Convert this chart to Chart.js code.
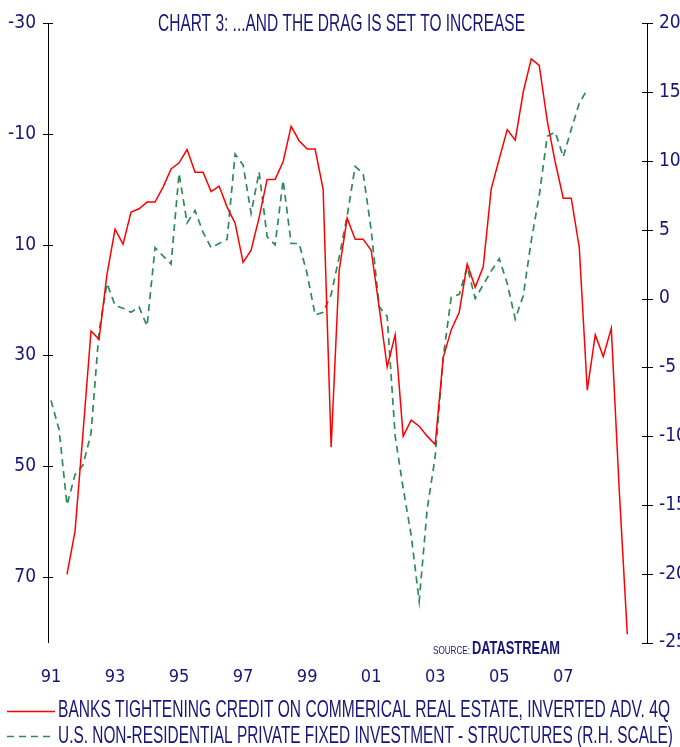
<!DOCTYPE html>
<html>
<head>
<meta charset="utf-8">
<script src="https://cdn.jsdelivr.net/npm/chart.js@4.4.1/dist/chart.umd.min.js"></script>
<style>
    html, body { margin: 0; padding: 0; background: #fff; }
    #wrap { width: 680px; height: 747px; }
</style>
</head>
<body>
<div id="wrap"><canvas id="chart" width="680" height="747"></canvas></div>
<script>
const TITLE = 'CHART 3: ...AND THE DRAG IS SET TO INCREASE';
const CREDIT_LABEL = 'BANKS TIGHTENING CREDIT ON COMMERICAL REAL ESTATE, INVERTED ADV. 4Q';
const STRUCTURES_LABEL = 'U.S. NON-RESIDENTIAL PRIVATE FIXED INVESTMENT - STRUCTURES (R.H. SCALE)';

// first quarter of each series: [year, quarter]
const creditStart = [1991, 3];
const structuresStart = [1991, 1];

// % of banks tightening, inverted, advanced 4 quarters (left scale)
const creditTightening = [
    69.6, 61.8, 44.0, 25.6, 27.1, 15.3, 7.2, 9.9, 4.1, 3.5,
    2.3, 2.3, -0.4, -3.7, -4.8, -7.2, -3.1, -3.1, 0.4, -0.6,
    3.2, 6.1, 13.2, 11.0, 5.1, -1.8, -1.8, -5.0, -11.4, -8.8,
    -7.3, -7.3, 0.0, 46.6, 14.7, 5.2, 9.0, 9.0, 11.0, 21.3,
    32.1, 26.3, 44.6, 41.7, 42.8, 44.6, 46.1, 30.4, 25.4, 22.2,
    13.5, 17.7, 14.0, -0.1, -5.5, -10.8, -8.9, -17.6, -23.6, -22.4,
    -12.4, -4.9, 1.6, 1.6, 10.5, 36.3, 26.3, 30.2, 25.1, 54.5,
    80.4
];

// structures investment, % y/y (right scale)
const structures = [
    -7.4, -9.5, -15.0, -12.8, -12.1, -9.8, -2.4, 1.1, -0.5, -0.7,
    -1.0, -0.6, -2.0, 3.7, 3.1, 2.5, 9.1, 5.5, 6.4, 4.8,
    3.7, 4.0, 4.3, 10.5, 9.7, 6.2, 9.2, 4.5, 3.9, 8.6,
    4.0, 4.0, 1.8, -1.2, -1.0, 0.3, 3.0, 6.0, 9.6, 9.1,
    5.0, -0.6, -1.3, -10.0, -13.8, -17.2, -22.0, -15.3, -11.5, -4.3,
    0.1, 0.3, 2.3, 0.0, 1.0, 2.0, 2.9, 1.1, -1.5, 0.2,
    4.2, 7.5, 11.8, 12.1, 10.3, 12.3, 14.2, 15.2
];

const yearTicks = [1991, 1993, 1995, 1997, 1999, 2001, 2003, 2005, 2007];
const leftTicks = [-30, -10, 10, 30, 50, 70];
const rightTicks = [20, 15, 10, 5, 0, -5, -10, -15, -20, -25];

const NAVY = '#16167a';
const RED = '#ff0000';
const GREEN = '#2e8b57';
const TICK_FONT = "'Liberation Sans Narrow', 'Arial Narrow', 'DejaVu Sans Condensed', 'Liberation Sans', sans-serif";

function toPoints(start, values) {
    return values.map((v, i) => ({
        x: start[0] + (start[1] - 1 + i) / 4,
        y: v
    }));
}

// text in the original is squeezed, so stretch it to the width it has there
function squeezedText(ctx, text, x, y, width, font, color) {
    ctx.save();
    ctx.font = font;
    ctx.fillStyle = color;
    ctx.textBaseline = 'alphabetic';
    ctx.textAlign = 'left';
    const w = ctx.measureText(text).width;
    ctx.translate(x, y);
    ctx.scale(width / w, 1);
    ctx.fillText(text, 0, 0);
    ctx.restore();
}

const decorations = {
    id: 'decorations',
    afterDraw(chart) {
        const ctx = chart.ctx;
        const ds = chart.data.datasets;

        // tick marks crossing both axes
        ctx.save();
        ctx.strokeStyle = '#000';
        ctx.lineWidth = 1;
        const yl = chart.scales.yL;
        yl.ticks.forEach(t => {
            const y = Math.round(yl.getPixelForValue(t.value)) + 0.5;
            ctx.beginPath();
            ctx.moveTo(yl.right - 5, y);
            ctx.lineTo(yl.right + 5, y);
            ctx.stroke();
        });
        const yr = chart.scales.yR;
        yr.ticks.forEach(t => {
            const y = Math.round(yr.getPixelForValue(t.value)) + 0.5;
            ctx.beginPath();
            ctx.moveTo(yr.left - 5, y);
            ctx.lineTo(yr.left + 6, y);
            ctx.stroke();
        });
        ctx.restore();

        squeezedText(ctx, TITLE, 158, 30.5, 367, "24px 'Liberation Sans', sans-serif", NAVY);

        squeezedText(ctx, 'SOURCE:', 433, 653.5, 37, "11px 'Liberation Sans', sans-serif", NAVY);
        squeezedText(ctx, 'DATASTREAM', 472, 653.5, 88, "bold 18px 'Liberation Sans', sans-serif", NAVY);

        // legend
        const rows = [
            { label: ds[0].label, y: 711.5, text: 716.5, width: 612, d: ds[0] },
            { label: ds[1].label, y: 736.5, text: 743, width: 615, d: ds[1] }
        ];
        rows.forEach(r => {
            ctx.save();
            ctx.strokeStyle = r.d.borderColor;
            ctx.lineWidth = r.d.borderWidth;
            ctx.setLineDash(r.d.borderDash || []);
            ctx.beginPath();
            ctx.moveTo(7, r.y);
            ctx.lineTo(55, r.y);
            ctx.stroke();
            ctx.restore();
            squeezedText(ctx, r.label, 58, r.text, r.width, "24px 'Liberation Sans', sans-serif", NAVY);
        });
    }
};

const ctx = document.querySelector('#chart');

new Chart(ctx, {
    type: 'line',
    data: {
        datasets: [
            {
                label: CREDIT_LABEL,
                data: toPoints(creditStart, creditTightening),
                yAxisID: 'yL',
                borderColor: RED,
                borderWidth: 1.5,
                pointRadius: 0,
                tension: 0,
                fill: false
            },
            {
                label: STRUCTURES_LABEL,
                data: toPoints(structuresStart, structures),
                yAxisID: 'yR',
                borderColor: GREEN,
                borderWidth: 1.7,
                borderDash: [7, 5],
                pointRadius: 0,
                tension: 0,
                fill: false
            }
        ]
    },
    options: {
        responsive: false,
        animation: false,
        devicePixelRatio: 1,
        layout: {
            padding: { top: 23, left: 0, right: 0, bottom: 0 }
        },
        plugins: {
            legend: { display: false },
            title: { display: false },
            tooltip: { enabled: false }
        },
        scales: {
            x: {
                type: 'linear',
                min: 1991 - 3 / 32,
                max: 1991 + 595.7 / 32,
                grid: { display: false, drawTicks: false },
                border: { display: false },
                afterBuildTicks: axis => {
                    axis.ticks = yearTicks.map(v => ({ value: v }));
                },
                afterFit: axis => {
                    axis.height = 104.5;
                },
                ticks: {
                    color: NAVY,
                    font: { family: TICK_FONT, size: 18 },
                    padding: 24,
                    maxRotation: 0,
                    autoSkip: false,
                    callback: v => String(v % 100).padStart(2, '0')
                }
            },
            yL: {
                type: 'linear',
                position: 'left',
                reverse: true,
                min: -30,
                max: 81.9,
                grid: { display: false, drawTicks: false },
                border: { display: true, color: '#000', width: 1 },
                afterBuildTicks: axis => {
                    axis.ticks = leftTicks.map(v => ({ value: v }));
                },
                afterFit: axis => {
                    axis.width = 48;
                },
                ticks: {
                    color: NAVY,
                    font: { family: TICK_FONT, size: 19 },
                    padding: 12
                }
            },
            yR: {
                type: 'linear',
                position: 'right',
                min: -25,
                max: 20,
                grid: { display: false, drawTicks: false },
                border: { display: true, color: '#000', width: 1 },
                afterBuildTicks: axis => {
                    axis.ticks = rightTicks.map(v => ({ value: v }));
                },
                afterFit: axis => {
                    axis.width = 33;
                },
                ticks: {
                    color: NAVY,
                    font: { family: TICK_FONT, size: 19 },
                    padding: 12
                }
            }
        }
    },
    plugins: [decorations]
});
</script>
</body>
</html>
